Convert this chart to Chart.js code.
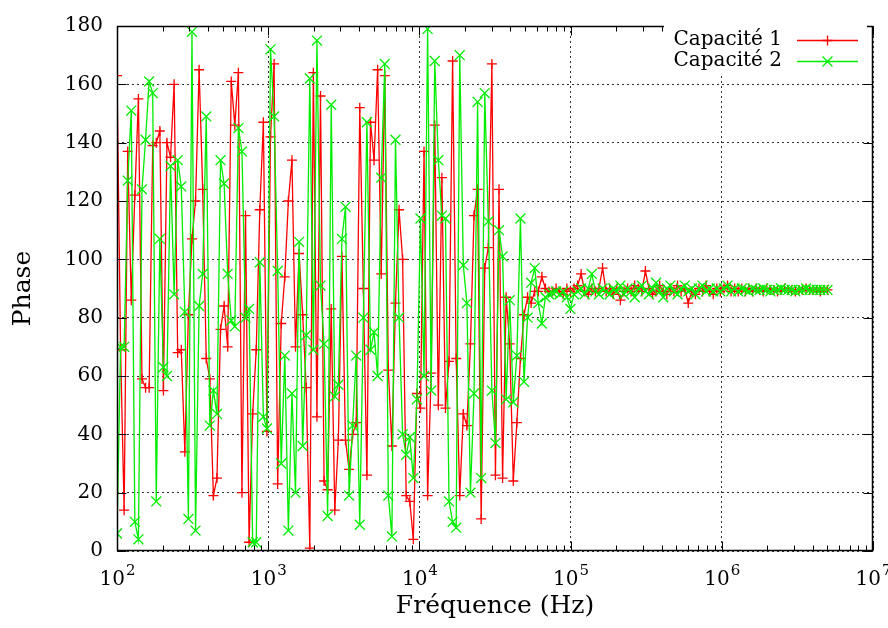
<!DOCTYPE html>
<html>
<head>
<meta charset="utf-8">
<title>Phase</title>
<script src="https://cdn.jsdelivr.net/npm/chart.js@4.4.0/dist/chart.umd.min.js"></script>
<style>
    html, body { margin: 0; padding: 0; background: #fff; }
    canvas { display: block; }
</style>
</head>
<body>
<canvas id="phase-chart" width="888" height="628"></canvas>
<script>
// Frequency sweep: 200 log-spaced points, 100 Hz -> 5 MHz
const sweepStart = 100;
const sweepStop = 5e6;
const sweepPoints = 200;

// x axis decades (10^2 .. 10^7)
const decadeExponents = [2, 3, 4, 5, 6, 7];

// Phase of capacitor 1 (red, "+")
const phase1 = [
    163, 69, 14, 137, 86, 122, 155, 59, 56, 56, 139, 140, 144, 55, 140, 135, 160, 68, 69, 34, 81, 107, 120, 165,
    124, 66, 59, 19, 25, 76, 84, 70, 161, 146, 164, 20, 115, 3, 47, 69, 117, 147, 41, 142, 167, 23, 78, 94, 120,
    134, 70, 102, 81, 56, 1, 164, 46, 156, 24, 21, 83, 14, 38, 101, 38, 28, 40, 44, 152, 90, 26, 147, 134, 165,
    95, 163, 62, 36, 85, 117, 100, 19, 17, 4, 54, 49, 137, 19, 61, 146, 50, 128, 49, 65, 168, 66, 19,
    47, 43, 71, 115, 124, 11, 97, 104, 167, 26, 124, 25, 87, 71, 24, 44, 66, 81, 87, 85, 89, 89, 94, 90, 89, 89,
    90, 89, 88, 90, 89, 90, 91, 95, 89, 88, 90, 89, 90, 97, 89, 90, 88, 90, 86, 89, 90, 89, 91, 90, 89, 96,
    90, 88, 89, 91, 89, 88, 90, 89, 91, 89, 90, 85, 89, 88, 90, 89, 91, 89, 88, 90, 89, 90, 91, 89, 90, 89,
    90, 89, 90, 89, 90,
    89.5, 89, 90, 89.5, 89.5, 89, 89.5, 90, 89.5, 89.5, 89, 89.5, 89.5, 90, 89.5, 89.5, 89.5, 89, 89.5, 89.5
];

// Phase of capacitor 2 (green, "x")
const phase2 = [
    6, 70, 70, 127, 151, 10, 4, 124, 141, 161, 157, 17, 107, 63, 60, 132, 88, 134, 125, 82, 11, 178, 7, 84,
    95, 149, 43, 55, 47, 134, 126, 95, 79, 77, 145, 137, 80, 83, 3, 3, 99, 46, 42, 172, 149, 96,
    30, 67, 7, 54, 20, 106, 36, 74, 162, 69, 175, 91, 71, 12, 153, 53, 57, 107, 118, 19, 43, 67, 9, 80, 147, 69, 75, 60, 128,
    167, 19, 5, 141, 80, 40, 33, 39, 25, 52, 114, 60, 179, 55, 168, 134, 115, 114, 17, 10, 8, 170,
    98, 85, 20, 54, 154, 25, 157, 113, 55, 37, 110, 101, 52, 86, 51, 67, 114, 58, 80, 92, 97, 85, 78, 87, 88, 88.5, 89,
    88, 89, 87, 83, 88, 89, 90, 88, 90, 95, 89, 88, 90, 89, 88, 90, 89, 91, 88, 90, 89, 87, 90, 91, 89, 88,
    90, 92, 89, 87, 90, 91, 89, 88, 90, 91, 89, 90, 88, 90, 91, 89, 90, 89, 90, 89, 90, 91, 89, 90, 89, 90,
    89.5, 89, 90, 89.5, 89.5, 90, 89.5, 89, 89.5, 89.5, 90, 89.5, 89.5, 89.5, 89, 89.5, 89.5, 90, 89.5, 89.5, 89.5, 89.5, 89.5, 89.5
];

const seriesLabels = ['Capacité 1', 'Capacité 2'];
const seriesColors = ['#ff0000', '#00ee00'];
const seriesMarkers = ['cross', 'crossRot'];
const markerRadius = [5, 7];

const serif = "'DejaVu Serif', serif";

// sweep frequencies
const ratio = Math.pow(sweepStop / sweepStart, 1 / (sweepPoints - 1));
const freqs = [];
for (let i = 0; i < sweepPoints; i++) freqs.push(sweepStart * Math.pow(ratio, i));

const toPoints = values => values.map((v, i) => ({ x: freqs[i], y: v }));

const isDecade = v => {
    if (!v) return false;
    const e = Math.log10(v);
    return Math.abs(e - Math.round(e)) < 1e-9;
};

// gnuplot-like frame, inward ticks, exponent labels and key
const gnuplotLook = {
    id: 'gnuplotLook',
    afterDatasetsDraw(chart) {
        const { ctx, chartArea: a, scales: { x, y } } = chart;
        const L = Math.round(a.left) + 0.5, R = Math.round(a.right) - 0.5;
        const T = Math.round(a.top) + 0.5, B = Math.round(a.bottom) - 0.5;
        ctx.save();
        ctx.strokeStyle = '#000';
        ctx.lineWidth = 1;
        ctx.beginPath();
        decadeExponents.forEach(e => {
            for (let m = 1; m <= 9; m++) {
                const v = m * Math.pow(10, e);
                if (v > x.max) break;
                const px = Math.round(x.getPixelForValue(v)) + 0.5;
                const len = m === 1 ? 9 : 5;
                ctx.moveTo(px, B); ctx.lineTo(px, B - len);
                ctx.moveTo(px, T); ctx.lineTo(px, T + len);
            }
        });
        y.ticks.forEach(t => {
            const py = Math.round(y.getPixelForValue(t.value)) + 0.5;
            ctx.moveTo(L, py); ctx.lineTo(L + 9, py);
            ctx.moveTo(R, py); ctx.lineTo(R - 9, py);
        });
        ctx.stroke();
        ctx.lineWidth = 1.5;
        ctx.strokeRect(L, T, R - L, B - T);
        ctx.restore();
    },
    afterDraw(chart) {
        const { ctx, scales: { x } } = chart;
        ctx.save();
        ctx.fillStyle = '#000';
        ctx.textBaseline = 'alphabetic';
        ctx.textAlign = 'left';

        // x tick labels: 10^n
        decadeExponents.forEach(e => {
            const px = x.getPixelForValue(Math.pow(10, e));
            ctx.font = '20px ' + serif;
            const wBase = ctx.measureText('10').width;
            ctx.font = '15px ' + serif;
            const wExp = ctx.measureText(String(e)).width;
            const x0 = px - (wBase + wExp) / 2;
            ctx.font = '20px ' + serif;
            ctx.fillText('10', x0, 585);
            ctx.font = '15px ' + serif;
            ctx.fillText(String(e), x0 + wBase + 1, 575);
        });

        // key
        ctx.fillStyle = '#fff';
        ctx.fillRect(664, 25, 203, 48);
        ctx.font = '20px ' + serif;
        ctx.textAlign = 'right';
        ctx.textBaseline = 'middle';
        seriesLabels.forEach((label, i) => {
            const ky = 40 + i * 21;
            ctx.fillStyle = '#000';
            ctx.fillText(label, 782, ky);
            ctx.strokeStyle = seriesColors[i];
            ctx.lineWidth = 1.3;
            ctx.beginPath();
            ctx.moveTo(797, ky + 0.5);
            ctx.lineTo(858, ky + 0.5);
            ctx.stroke();
            Chart.helpers.drawPoint(ctx, {
                pointStyle: seriesMarkers[i],
                radius: markerRadius[i],
                rotation: 0,
                borderWidth: 1.3
            }, 827.5, ky + 0.5);
        });
        ctx.restore();
    }
};

const datasets = [phase1, phase2].map((values, i) => ({
    label: seriesLabels[i],
    data: toPoints(values),
    borderColor: seriesColors[i],
    backgroundColor: seriesColors[i],
    borderWidth: 1.3,
    pointStyle: seriesMarkers[i],
    pointRadius: markerRadius[i],
    pointHoverRadius: markerRadius[i],
    pointBorderColor: seriesColors[i],
    pointBorderWidth: 1.3,
    tension: 0,
    order: i === 0 ? 1 : 0
}));

new Chart(document.getElementById('phase-chart').getContext('2d'), {
    type: 'line',
    data: { datasets: datasets },
    options: {
        responsive: false,
        animation: false,
        devicePixelRatio: 1,
        layout: { padding: { left: 0, right: 15, top: 17, bottom: 0 } },
        plugins: {
            legend: { display: false },
            tooltip: { enabled: false }
        },
        scales: {
            x: {
                type: 'logarithmic',
                min: 100,
                max: 1e7,
                ticks: { display: false },
                grid: {
                    drawTicks: false,
                    lineWidth: 1,
                    color: ctx => (ctx.tick && isDecade(ctx.tick.value)) ? 'rgba(0,0,0,0.8)' : 'rgba(0,0,0,0)'
                },
                border: { display: false, dash: [2, 3] },
                title: {
                    display: true,
                    text: 'Fréquence (Hz)',
                    color: '#000',
                    font: { family: serif, size: 25 },
                    padding: { top: 0, bottom: 7 }
                },
                afterFit: scale => { scale.height = 77; }
            },
            y: {
                min: 0,
                max: 180,
                ticks: {
                    stepSize: 20,
                    padding: 14,
                    color: '#000',
                    font: { family: serif, size: 20 }
                },
                grid: { drawTicks: false, lineWidth: 1, color: 'rgba(0,0,0,0.8)' },
                border: { display: false, dash: [2, 3] },
                title: {
                    display: true,
                    text: 'Phase',
                    color: '#000',
                    font: { family: serif, size: 25 },
                    padding: { top: 8, bottom: 0 }
                },
                afterFit: scale => { scale.width = 117; }
            }
        }
    },
    plugins: [gnuplotLook]
});
</script>
</body>
</html>
